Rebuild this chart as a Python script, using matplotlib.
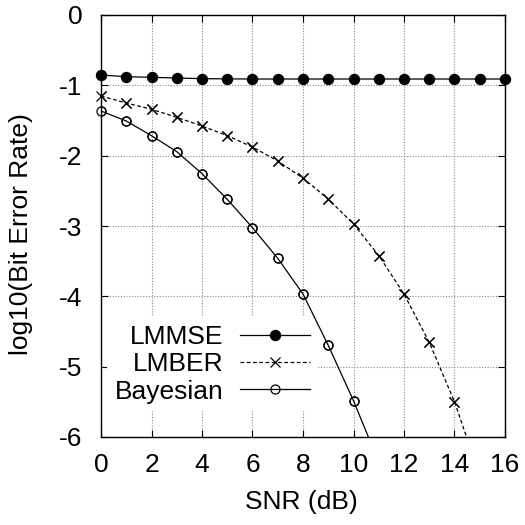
import numpy as np
import matplotlib
matplotlib.use("Agg")
import matplotlib.pyplot as plt

plt.rcParams['font.family'] = ['Liberation Sans', 'DejaVu Sans']
plt.rcParams['axes.unicode_minus'] = False

snr = list(range(0, 17))
lmmse = [-0.853, -0.877, -0.886, -0.896, -0.905, -0.908, -0.91, -0.91, -0.91,
         -0.91, -0.91, -0.91, -0.91, -0.91, -0.91, -0.91, -0.91]
snr_lmber = list(range(0, 16))
lmber = [-1.152, -1.251, -1.341, -1.455, -1.578, -1.716, -1.877, -2.076, -2.32,
         -2.616, -2.972, -3.42, -3.967, -4.654, -5.498, -6.55]
snr_bayes = list(range(0, 12))
bayes = [-1.365, -1.507, -1.716, -1.943, -2.256, -2.621, -3.024, -3.46, -3.967,
         -4.697, -5.484, -6.36]

xticks = list(range(0, 17, 2))
yticks = list(range(-6, 1))

fs = 19
fig = plt.figure(figsize=(5.25, 5.25), dpi=100)
ax = fig.add_axes([101/525, 1-437/525, 404/525, 422/525])
ax.set_xlim(0, 16)
ax.set_ylim(-6, 0)
ax.set_xticks(xticks)
ax.set_yticks(yticks)
ax.tick_params(direction='in', top=True, right=True, length=5, width=0.8,
               labelsize=fs)
ax.tick_params(axis='y', pad=13.5)
ax.tick_params(axis='x', pad=11.5)
ax.grid(True, linestyle=(0, (1, 1.5)), color='#888888', linewidth=0.8)
ax.set_axisbelow(True)
for s in ax.spines.values():
    s.set_linewidth(1.0)
    s.set_zorder(4)

lw = 0.9
l1, = ax.plot(snr, lmmse, '-', color='black', lw=lw, marker='o', ms=7.2,
              mfc='black', mec='black', clip_on=False, label='LMMSE', zorder=3)
l2, = ax.plot(snr_lmber, lmber, color='black', lw=lw, linestyle=(0, (3, 2)),
              marker='x', ms=7.5, mew=0.9, label='LMBER', zorder=3)
l3, = ax.plot(snr_bayes, bayes, '-', color='black', lw=lw, marker='o', ms=6.5,
              mfc='none', mec='black', mew=0.9, label='Bayesian', zorder=3)
# markers at the edge, not clipped (only points within range)
xb = np.array(snr_lmber); yb = np.array(lmber); m = yb >= -6
ax.plot(xb[m], yb[m], linestyle='none', marker='x', ms=7.5, mew=0.9,
        color='black', clip_on=False, zorder=3)
xc = np.array(snr_bayes); yc = np.array(bayes); m = yc >= -6
ax.plot(xc[m], yc[m], linestyle='none', marker='o', ms=6.5, mfc='none',
        mec='black', mew=0.9, clip_on=False, zorder=3)

leg = ax.legend(handles=[l1, l2, l3], loc='center right',
                bbox_to_anchor=(0.537, 0.172), markerfirst=False,
                fontsize=fs, handlelength=2.65, handletextpad=0.64,
                labelspacing=0.12, borderpad=0.3, borderaxespad=0,
                frameon=True, fancybox=False, edgecolor='none',
                facecolor='white', framealpha=1.0)
leg.set_zorder(2)

ax.set_xlabel('SNR (dB)', fontsize=fs)
ax.set_ylabel('log10(Bit Error Rate)', fontsize=fs)
ax.xaxis.set_label_coords(0.496, -0.125)
ax.yaxis.set_label_coords(-0.168, 0.482)

fig.savefig('out.png', dpi=100)
